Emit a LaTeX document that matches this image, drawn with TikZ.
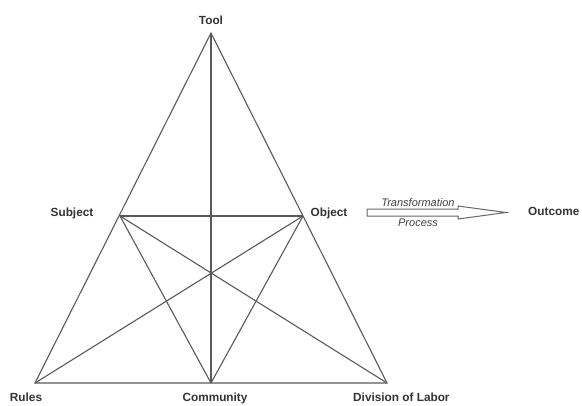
\documentclass[tikz,border=0pt]{standalone}
\usepackage{fontspec}
\setmainfont{Liberation Sans}
\begin{document}
\begin{tikzpicture}[x=1pt,y=-1pt,
  edge/.style={draw=black!65,line width=1.1pt},
  lbl/.style={font=\fontsize{11.8}{13}\selectfont\bfseries,text=black!80,inner sep=0pt},
  note/.style={font=\fontsize{11}{13}\selectfont\itshape,text=black!75,inner sep=0pt}]
\useasboundingbox (0,0) rectangle (582,405);
\coordinate (T) at (211,33);
\coordinate (S) at (120,216);
\coordinate (O) at (303,216);
\coordinate (R) at (35,383);
\coordinate (C) at (211,383);
\coordinate (D) at (387,383);
\draw[edge] (T) -- (R) -- (D) -- cycle;
\draw[edge] (T) -- (C);
\draw[edge] (S) -- (O);
\draw[edge] (S) -- (D);
\draw[edge] (O) -- (R);
\draw[edge] (S) -- (C);
\draw[edge] (O) -- (C);
\node[lbl] (lT) at (211,20) {Tool};
\node[lbl] (lS) at (72,213) {Subject};
\node[lbl] (lO) at (329,213) {Object};
\node[lbl,anchor=base] (lR) at (26,401.5) {Rules};
\node[lbl,anchor=base] (lC) at (215,401.5) {Community};
\node[lbl,anchor=base west] (lD) at (353,401.5) {Division of Labor};
\node[lbl,anchor=west] (lOut) at (528,211) {Outcome};
\draw[draw=black!60,line width=1pt,fill=white]
  (367,209) -- (458,209) -- (458,206) -- (506,212.5) -- (458,219) -- (458,216) -- (367,216) -- cycle;
\node[note] (tr) at (418,203) {Transformation};
\node[note] (pr) at (418,223) {Process};
\end{tikzpicture}
\end{document}
